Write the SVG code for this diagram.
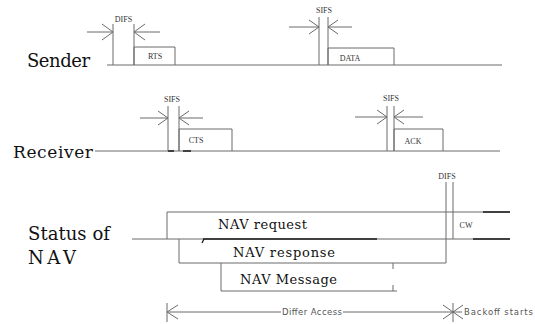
<svg xmlns="http://www.w3.org/2000/svg" width="535" height="324" viewBox="0 0 535 324">
<style>
.ln{fill:none;stroke:#6a6a6a;stroke-width:1}
.dk{fill:none;stroke:#1a1a1a;stroke-width:1.3}
.big{font-family:"DejaVu Serif",serif;fill:#111}
.sm{font-family:"Liberation Serif",serif;font-size:8px;fill:#333;text-anchor:middle}
.nav{font-family:"DejaVu Serif",serif;font-size:13px;fill:#111}
.tl{font-family:"DejaVu Sans",sans-serif;font-size:8.5px;fill:#555}
</style>
<rect width="535" height="324" fill="#fff"/>
<g id="labels">
<text class="big" x="27" y="67" font-size="18" textLength="63">Sender</text>
<text class="big" x="13" y="158" font-size="17" textLength="80">Receiver</text>
<text class="big" x="28" y="240" font-size="18" textLength="82">Status of</text>
<text class="big" x="28" y="264" font-size="18" textLength="48">NAV</text>
</g>
<g id="sender">
<path class="ln" d="M107,65 H502"/>
<path class="ln" d="M113,24 V65 M134,24 V65"/>
<text class="sm" x="123.5" y="22">DIFS</text>
<path class="ln" d="M87,32 H113 M102,24 L113,32 L102,40 M160,32 H134 M145,24 L134,32 L145,40"/>
<path class="ln" d="M134,65 V47 H175 V65"/>
<text class="sm" x="155" y="59">RTS</text>
<path class="ln" d="M319,17 V65 M328,17 V65"/>
<text class="sm" x="324" y="13">SIFS</text>
<path class="ln" d="M289,27 H319 M309,20 L319,27 L309,34 M352,27 H328 M338,20 L328,27 L338,34"/>
<path class="ln" d="M328,65 V48 H394 V65"/>
<text class="sm" x="350" y="61">DATA</text>
</g>
<g id="receiver">
<path class="ln" d="M95,151 H500"/>
<path class="dk" d="M168,151 H174 M183,151 H191"/>
<path class="ln" d="M168,106 V151 M179,106 V151"/>
<text class="sm" x="172" y="102">SIFS</text>
<path class="ln" d="M140,118 H168 M158,111 L168,118 L158,125 M203,118 H179 M189,111 L179,118 L189,125"/>
<path class="ln" d="M179,151 V129 H232 V151"/>
<text class="sm" x="196" y="143">CTS</text>
<path class="ln" d="M387,106 V151 M394,106 V151"/>
<text class="sm" x="391" y="101">SIFS</text>
<path class="ln" d="M355,117 H387 M377,110 L387,117 L377,124 M423,117 H394 M404,110 L394,117 L404,124"/>
<path class="ln" d="M394,151 V129 H443 V151"/>
<text class="sm" x="413" y="144">ACK</text>
</g>
<g id="nav">
<path class="ln" d="M132,239 H510"/>
<path class="ln" d="M167,239 V212 H510"/>
<path class="dk" d="M483,212 H510 M203,239 H377 M473,239 H510 M204,239 l-2,4"/>
<path class="ln" d="M446,182 V263 M453,182 V239"/>
<text class="sm" x="447" y="179">DIFS</text>
<text class="sm" x="466" y="228">CW</text>
<path class="ln" d="M179,239 V263 H446"/>
<path class="ln" d="M221,263 V291 H397 M393,263 V269 M393,285 V291"/>
<text class="nav" x="218" y="229" textLength="89">NAV request</text>
<text class="nav" x="233" y="257" textLength="102">NAV response</text>
<text class="nav" x="240" y="284" textLength="97">NAV Message</text>
</g>
<g id="timeline">
<path class="ln" d="M167,312 H281 M343,312 H462"/>
<path class="ln" d="M167,303 V322 M178,305 L167,312 L178,319"/>
<path class="ln" d="M453,303 V322 M443,305 L453,312 L443,319 M463,305 L453,312 L463,319"/>
<text class="tl" x="282" y="315" textLength="60">Differ Access</text>
<text class="tl" x="464" y="315" textLength="69">Backoff starts</text>
</g>
</svg>
